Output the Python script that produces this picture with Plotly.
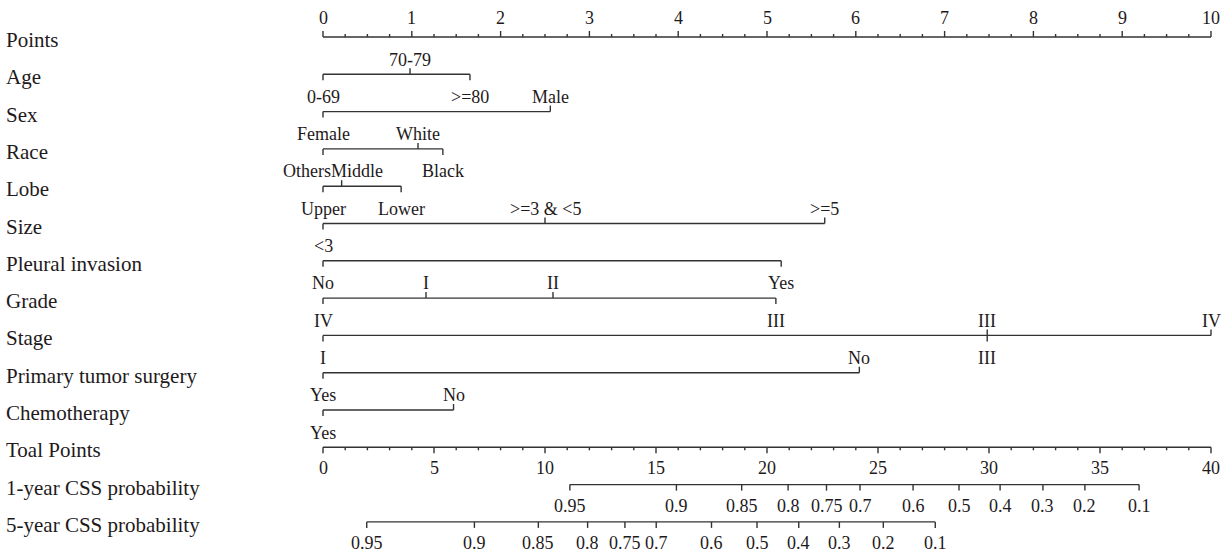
import plotly.graph_objects as go

# ---------------- data ----------------
row_names = ["Points", "Age", "Sex", "Race", "Lobe", "Size", "Pleural invasion", "Grade",
             "Stage", "Primary tumor surgery", "Chemotherapy", "Toal Points",
             "1-year CSS probability", "5-year CSS probability"]

points_ticks = [0, 1, 2, 3, 4, 5, 6, 7, 8, 9, 10]
points_minor_step = 0.25
total_ticks = [0, 5, 10, 15, 20, 25, 30, 35, 40]
total_minor_step = 1
total_max = 40
points_max = 10

age_levels = ["0-69", "70-79", ">=80"]
age_points = [0, 0.98, 1.655]
age_sides = ["below", "above", "below"]

sex_levels = ["Female", "Male"]
sex_points = [0, 2.56]
sex_sides = ["below", "above"]

race_levels = ["Others", "White", "Black"]
race_points = [0, 1.07, 1.35]
race_sides = ["below", "above", "below"]

lobe_levels = ["Upper", "Middle", "Lower"]
lobe_points = [0, 0.21, 0.88]
lobe_sides = ["below", "above", "below"]

size_levels = ["<3", ">=3 & <5", ">=5"]
size_points = [0, 2.5, 5.65]
size_sides = ["below", "above", "above"]

pleural_levels = ["No", "Yes"]
pleural_points = [0, 5.16]
pleural_sides = ["below", "below"]

grade_levels = ["IV", "I", "II", "III"]
grade_points = [0, 1.16, 2.59, 5.10]
grade_sides = ["below", "above", "above", "below"]

stage_levels = ["I", "III", "III", "IV"]
stage_points = [0, 7.48, 7.48, 10]
stage_sides = ["below", "above", "below", "above"]

surgery_levels = ["Yes", "No"]
surgery_points = [0, 6.04]
surgery_sides = ["below", "above"]

chemo_levels = ["Yes", "No"]
chemo_points = [0, 1.47]
chemo_sides = ["below", "above"]

prob1_labels = ["0.95", "0.9", "0.85", "0.8", "0.75", "0.7", "0.6", "0.5", "0.4", "0.3", "0.2", "0.1"]
prob1_total = [11.12, 15.92, 18.86, 20.95, 22.68, 24.19, 26.58, 28.65, 30.5, 32.43, 34.32, 36.76]

prob5_labels = ["0.95", "0.9", "0.85", "0.8", "0.75", "0.7", "0.6", "0.5", "0.4", "0.3", "0.2", "0.1"]
prob5_total = [1.97, 6.82, 9.70, 11.92, 13.6, 15.01, 17.5, 19.55, 21.43, 23.26, 25.24, 27.58]

# ---------------- layout constants ----------------
W, H = 1231, 554
X0_PX, PX_PER_PT = 323, 88.8
ROW_Y0, ROW_DY = 37, 37.3
LINE_COLOR = "#333333"
TEXT_COLOR = "#1e1a1b"
FONT = "Liberation Serif, Times New Roman, serif"
ROW_FS, TICK_FS = 21, 18
ABOVE_OFF, BELOW_OFF = -14.8, 22.5
TICK_LEN, MINOR_LEN = 6, 3
# horizontal nudges (px) for crowded labels: (row index, level index) -> dx
LABEL_NUDGE = {(3, 0): -16, (4, 1): 15}

def row_y(i):
    return ROW_Y0 + i * ROW_DY

seg_x, seg_y = [], []
annotations = []

def seg(x0, y0, x1, y1):
    seg_x.extend([x0, x1, None])
    seg_y.extend([y0, y1, None])

def label(x, y, text, size=TICK_FS, xanchor="center", dx=0):
    annotations.append(dict(x=x, y=y, text=text, showarrow=False, xanchor=xanchor,
                            yanchor="middle", xref="x", yref="y", xshift=dx,
                            font=dict(family=FONT, size=size, color=TEXT_COLOR)))

# row names
for i, name in enumerate(row_names):
    label((4 - X0_PX) / PX_PER_PT, row_y(i) + 3, name, size=ROW_FS, xanchor="left")

# Points axis (ticks up, labels above)
y = row_y(0)
seg(0, y, points_max, y)
n_minor = int(round(points_max / points_minor_step))
for k in range(n_minor + 1):
    v = k * points_minor_step
    major = abs(v - round(v)) < 1e-9
    seg(v, y, v, y - (TICK_LEN if major else MINOR_LEN))
for v in points_ticks:
    label(v, y - 19, str(v))

# variable rows
variables = [
    (age_levels, age_points, age_sides),
    (sex_levels, sex_points, sex_sides),
    (race_levels, race_points, race_sides),
    (lobe_levels, lobe_points, lobe_sides),
    (size_levels, size_points, size_sides),
    (pleural_levels, pleural_points, pleural_sides),
    (grade_levels, grade_points, grade_sides),
    (stage_levels, stage_points, stage_sides),
    (surgery_levels, surgery_points, surgery_sides),
    (chemo_levels, chemo_points, chemo_sides),
]
for i, (levs, pts, sides) in enumerate(variables, start=1):
    y = row_y(i)
    seg(min(pts), y, max(pts), y)
    for j, (lev, p, s) in enumerate(zip(levs, pts, sides)):
        dx = LABEL_NUDGE.get((i, j), 0)
        if s == "above":
            seg(p, y, p, y - TICK_LEN)
            label(p, y + ABOVE_OFF, lev, dx=dx)
        else:
            seg(p, y, p, y + TICK_LEN)
            label(p, y + BELOW_OFF, lev, dx=dx)

# Total points axis (ticks down, labels below)
scale = points_max / total_max
y = row_y(11)
seg(0, y, total_max * scale, y)
for v in range(0, total_max + 1, total_minor_step):
    major = v in total_ticks
    seg(v * scale, y, v * scale, y + (TICK_LEN if major else MINOR_LEN))
for v in total_ticks:
    label(v * scale, y + 21, str(v))

# probability axes
for i, (labs, tots) in zip([12, 13], [(prob1_labels, prob1_total), (prob5_labels, prob5_total)]):
    y = row_y(i)
    seg(min(tots) * scale, y, max(tots) * scale, y)
    for lab, t in zip(labs, tots):
        seg(t * scale, y, t * scale, y + TICK_LEN)
        label(t * scale, y + 21, lab)

fig = go.Figure()
fig.add_trace(go.Scatter(x=seg_x, y=seg_y, mode="lines",
                         line=dict(color=LINE_COLOR, width=1.4), hoverinfo="skip",
                         showlegend=False))
fig.update_layout(
    width=W, height=H, margin=dict(l=0, r=0, t=0, b=0),
    paper_bgcolor="white", plot_bgcolor="white",
    xaxis=dict(range=[-X0_PX / PX_PER_PT, (W - X0_PX) / PX_PER_PT], visible=False, fixedrange=True),
    yaxis=dict(range=[H, 0], visible=False, fixedrange=True),
    annotations=annotations, showlegend=False,
)
fig.write_html("out.html")
